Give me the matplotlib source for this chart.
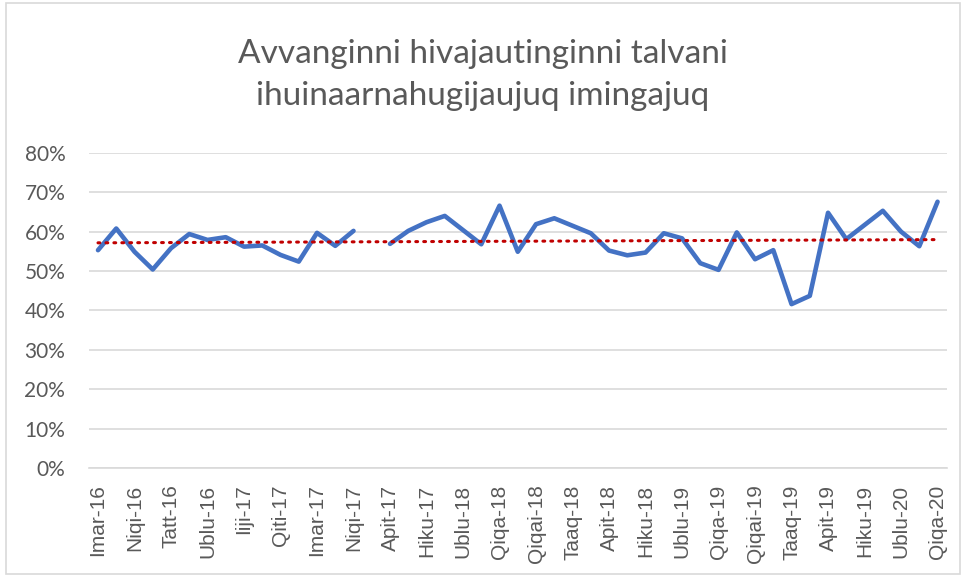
import matplotlib.pyplot as plt
import numpy as np

# monthly share, one value per category (NaN = no data)
values = [55.3, 60.8, 54.9, 50.4, 55.8, 59.4, 57.9, 58.6, 56.2, 56.5,
          54.1, 52.4, 59.7, 56.4, 60.2, np.nan, 56.9, 60.2, 62.4, 64.0,
          60.4, 56.8, 66.6, 54.9, 61.9, 63.4, 61.5, 59.6, 55.2, 54.0,
          54.7, 59.6, 58.3, 52.0, 50.3, 59.8, 53.0, 55.3, 41.6, 43.7,
          64.8, 58.1, 61.7, 65.3, 60.0, 56.3, 67.6]

tick_labels = ['Imar-16', 'Niqi-16', 'Tatt-16', 'Ublu-16', 'Iiji-17', 'Qiti-17',
               'Imar-17', 'Niqi-17', 'Apit-17', 'Hiku-17', 'Ublu-18', 'Qiqa-18',
               'Qiqai-18', 'Taaq-18', 'Apit-18', 'Hiku-18', 'Ublu-19', 'Qiqa-19',
               'Qiqai-19', 'Taaq-19', 'Apit-19', 'Hiku-19', 'Ublu-20', 'Qiqa-20']

title = 'Avvanginni hivajautinginni talvani\nihuinaarnahugijaujuq imingajuq'

y = np.array(values) / 100
x = np.arange(len(y))

plt.rcParams['font.family'] = ['Lato', 'DejaVu Sans']
text_col = '#595959'

fig = plt.figure(figsize=(9.66, 5.77), dpi=100)
ax = fig.add_axes([0.092, 0.189, 0.888, 0.546])

ax.plot(x, y, color='#4472C4', lw=3.3, solid_joinstyle='round',
        solid_capstyle='round', zorder=3)

# linear trend line over available points
ok = ~np.isnan(y)
k, b = np.polyfit(x[ok], y[ok], 1)
ax.plot(x, k * x + b, color='#C00000', lw=2.2, linestyle=(0, (0.6, 2.0)),
        dash_capstyle='round', zorder=4)

ax.set_xlim(-0.5, len(y) - 0.5)
ax.set_ylim(0, 0.8)
ax.set_yticks(np.arange(0, 0.81, 0.1))
ax.set_yticklabels([f'{int(round(v * 100))}%' for v in np.arange(0, 0.81, 0.1)])
ax.set_xticks(x[::2])
ax.set_xticklabels(tick_labels, rotation=90, family=['Liberation Sans', 'DejaVu Sans'])

ax.grid(axis='y', color='#D9D9D9', lw=1.2)
ax.set_axisbelow(True)
for s in ['top', 'right', 'left']:
    ax.spines[s].set_visible(False)
ax.spines['bottom'].set_color('#D9D9D9')
ax.spines['bottom'].set_linewidth(1.2)
ax.tick_params(axis='both', length=0, labelsize=15, labelcolor=text_col)
ax.tick_params(axis='y', pad=17)
ax.tick_params(axis='x', pad=12)

fig.text(0.5, 0.870, title, ha='center', va='center', fontsize=24,
         color=text_col, linespacing=1.5)

# chart frame
fig.patches.append(plt.Rectangle((0.006, 0.006), 0.988, 0.988, transform=fig.transFigure,
                                 fill=False, edgecolor='#D9D9D9', lw=1.2))

fig.savefig('out.png', dpi=100)
